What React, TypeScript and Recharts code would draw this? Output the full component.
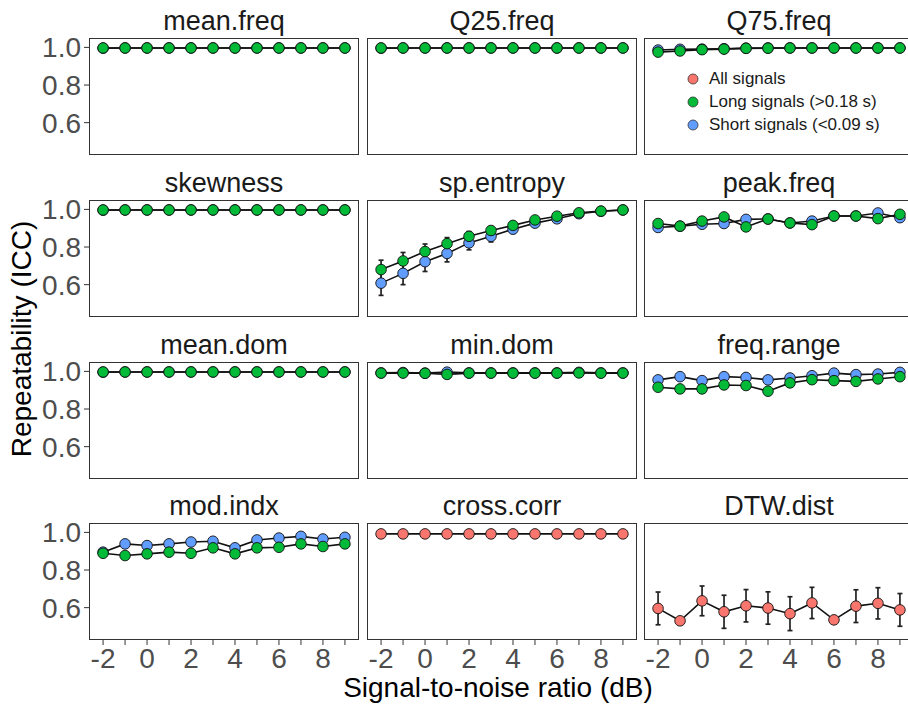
import React from 'react';
import { LineChart, Line, XAxis, YAxis, ErrorBar, Legend } from 'recharts';

// Signal-to-noise ratios (dB) shared by every panel
const SNR = [-2, -1, 0, 1, 2, 3, 4, 5, 6, 7, 8, 9];
const X_TICKS = [-2, -1, 0, 1, 2, 3, 4, 5, 6, 7, 8, 9];
const Y_TICKS = [0.6, 0.8, 1.0];

const FEATURE_NAMES = [
  'mean.freq', 'Q25.freq', 'Q75.freq',
  'skewness', 'sp.entropy', 'peak.freq',
  'mean.dom', 'min.dom', 'freq.range',
  'mod.indx', 'cross.corr', 'DTW.dist',
];

// Repeatability (ICC) per feature and signal group
const MEAN_FREQ_LONG = [0.997, 0.997, 0.997, 0.997, 0.997, 0.997, 0.997, 0.997, 0.997, 0.997, 0.997, 0.997];
const MEAN_FREQ_SHORT = [0.996, 0.997, 0.997, 0.997, 0.997, 0.997, 0.997, 0.997, 0.997, 0.997, 0.997, 0.997];

const Q25_FREQ_LONG = [0.997, 0.997, 0.997, 0.997, 0.997, 0.997, 0.997, 0.997, 0.997, 0.997, 0.997, 0.997];
const Q25_FREQ_SHORT = [0.996, 0.997, 0.997, 0.997, 0.997, 0.997, 0.997, 0.997, 0.997, 0.997, 0.997, 0.997];

const Q75_FREQ_LONG = [0.975, 0.981, 0.988, 0.991, 0.995, 0.996, 0.997, 0.997, 0.997, 0.997, 0.997, 0.997];
const Q75_FREQ_SHORT = [0.986, 0.990, 0.991, 0.993, 0.996, 0.997, 0.997, 0.997, 0.997, 0.997, 0.997, 0.997];

const SKEWNESS_LONG = [0.997, 0.997, 0.997, 0.997, 0.997, 0.997, 0.997, 0.997, 0.997, 0.997, 0.997, 0.997];
const SKEWNESS_SHORT = [0.996, 0.997, 0.997, 0.997, 0.997, 0.997, 0.997, 0.997, 0.997, 0.997, 0.997, 0.997];

const SP_ENTROPY_LONG = [0.680, 0.726, 0.776, 0.818, 0.857, 0.888, 0.915, 0.944, 0.964, 0.982, 0.991, 0.997];
const SP_ENTROPY_LONG_ERR = [0.050, 0.045, 0.040, 0.032, 0.025, 0.020, 0.015, 0.012, 0.008, 0.006, 0.004, 0.003];
const SP_ENTROPY_SHORT = [0.608, 0.660, 0.722, 0.766, 0.822, 0.857, 0.895, 0.927, 0.950, 0.977, 0.990, 0.997];
const SP_ENTROPY_SHORT_ERR = [0.065, 0.060, 0.052, 0.045, 0.037, 0.030, 0.022, 0.016, 0.011, 0.008, 0.005, 0.003];

const PEAK_FREQ_LONG = [0.925, 0.911, 0.938, 0.960, 0.907, 0.949, 0.928, 0.919, 0.965, 0.965, 0.951, 0.974];
const PEAK_FREQ_SHORT = [0.904, 0.911, 0.921, 0.925, 0.947, 0.949, 0.928, 0.938, 0.965, 0.965, 0.981, 0.956];

const MEAN_DOM_LONG = [0.997, 0.997, 0.997, 0.997, 0.997, 0.997, 0.997, 0.997, 0.997, 0.997, 0.997, 0.997];
const MEAN_DOM_SHORT = [0.996, 0.997, 0.997, 0.997, 0.997, 0.997, 0.997, 0.997, 0.997, 0.997, 0.997, 0.997];

const MIN_DOM_LONG = [0.991, 0.991, 0.990, 0.984, 0.991, 0.991, 0.991, 0.991, 0.991, 0.992, 0.991, 0.991];
const MIN_DOM_SHORT = [0.992, 0.994, 0.991, 0.996, 0.992, 0.992, 0.992, 0.992, 0.992, 0.995, 0.992, 0.992];

const FREQ_RANGE_LONG = [0.916, 0.907, 0.907, 0.928, 0.925, 0.895, 0.939, 0.956, 0.951, 0.947, 0.960, 0.972];
const FREQ_RANGE_SHORT = [0.955, 0.972, 0.951, 0.972, 0.968, 0.955, 0.965, 0.977, 0.991, 0.983, 0.986, 0.995];

const MOD_INDX_LONG = [0.889, 0.877, 0.886, 0.895, 0.889, 0.918, 0.886, 0.918, 0.921, 0.939, 0.925, 0.939];
const MOD_INDX_SHORT = [0.895, 0.939, 0.930, 0.939, 0.949, 0.953, 0.918, 0.960, 0.970, 0.979, 0.965, 0.974];

const CROSS_CORR_ALL = [0.992, 0.992, 0.992, 0.992, 0.992, 0.992, 0.992, 0.992, 0.992, 0.992, 0.992, 0.992];

const DTW_DIST_ALL = [0.596, 0.530, 0.636, 0.578, 0.610, 0.598, 0.568, 0.625, 0.535, 0.608, 0.623, 0.588];
const DTW_DIST_ALL_ERR = [0.087, 0, 0.079, 0.088, 0.086, 0.086, 0.090, 0.083, 0, 0.087, 0.083, 0.087];

const LEGEND_LABELS = ['All signals', 'Long signals (>0.18 s)', 'Short signals (<0.09 s)'];

type Series = { all?: number[]; allErr?: number[]; long?: number[]; longErr?: number[]; short?: number[]; shortErr?: number[] };

const FEATURE_SERIES: Series[] = [
  { long: MEAN_FREQ_LONG, short: MEAN_FREQ_SHORT },
  { long: Q25_FREQ_LONG, short: Q25_FREQ_SHORT },
  { long: Q75_FREQ_LONG, short: Q75_FREQ_SHORT },
  { long: SKEWNESS_LONG, short: SKEWNESS_SHORT },
  { long: SP_ENTROPY_LONG, longErr: SP_ENTROPY_LONG_ERR, short: SP_ENTROPY_SHORT, shortErr: SP_ENTROPY_SHORT_ERR },
  { long: PEAK_FREQ_LONG, short: PEAK_FREQ_SHORT },
  { long: MEAN_DOM_LONG, short: MEAN_DOM_SHORT },
  { long: MIN_DOM_LONG, short: MIN_DOM_SHORT },
  { long: FREQ_RANGE_LONG, short: FREQ_RANGE_SHORT },
  { long: MOD_INDX_LONG, short: MOD_INDX_SHORT },
  { all: CROSS_CORR_ALL },
  { all: DTW_DIST_ALL, allErr: DTW_DIST_ALL_ERR },
];

// ---- styling / layout ----
const FONT = '"Liberation Sans", Arial, Helvetica, sans-serif';
const COLORS: Record<string, string> = { all: '#F8766D', long: '#00BA38', short: '#619CFF' };
const LEGEND_KEYS = ['all', 'long', 'short'];
const DRAW_ORDER = ['all', 'short', 'long'];

const COL_LEFT = [89, 367, 644];
const ROW_TOP = [38, 200, 362, 523];
const PW = 270;
const PH = 117;
const PAD = 16; // room around the plot area so labels near the edges are not clipped
const Y_AXIS_W = 70;
const X_AXIS_H = 45;
const X_DOMAIN: [number, number] = [-2.64, 9.64];
const Y_DOMAIN: [number, number] = [0.428, 1.05];

const TICK_STYLE = { fontSize: 28, fill: '#4d4d4d', fontFamily: FONT };

function buildRows(s: Series) {
  return SNR.map((snr, i) => {
    const row: Record<string, number> = { snr };
    for (const k of LEGEND_KEYS) {
      const v = (s as any)[k] as number[] | undefined;
      const e = (s as any)[k + 'Err'] as number[] | undefined;
      if (v) row[k] = v[i];
      if (e) row[k + 'Err'] = e[i];
    }
    return row;
  });
}

function LegendBox() {
  return (
    <div style={{ fontFamily: FONT, fontSize: 17, color: '#1a1a1a' }}>
      {LEGEND_LABELS.map((label, i) => (
        <div key={label} style={{ display: 'flex', alignItems: 'center', height: 23, whiteSpace: 'nowrap' }}>
          <svg width={12} height={12} style={{ marginRight: 10, flex: 'none' }}>
            <circle cx={6} cy={6} r={5} fill={COLORS[LEGEND_KEYS[i]]} stroke="#333" strokeWidth={0.8} />
          </svg>
          <span>{label}</span>
        </div>
      ))}
    </div>
  );
}

function Panel({ index }: { index: number }) {
  const col = index % 3;
  const row = Math.floor(index / 3);
  const left = COL_LEFT[col];
  const top = ROW_TOP[row];
  const showY = col === 0;
  const showX = row === 3;
  const yw = showY ? Y_AXIS_W : 0;
  const xh = showX ? X_AXIS_H : 0;
  const series = FEATURE_SERIES[index];
  const data = buildRows(series);
  const keys = DRAW_ORDER.filter((k) => (series as any)[k]);
  const w = yw + PW + PAD;
  const h = PAD + PH + xh + PAD;

  return (
    <>
      <div style={{ position: 'absolute', left: left - yw, top: top - PAD, width: w, height: h }}>
        <LineChart width={w} height={h} data={data} margin={{ top: PAD, right: PAD, bottom: PAD, left: 0 }}>
          <XAxis
            type="number"
            dataKey="snr"
            domain={X_DOMAIN}
            ticks={X_TICKS}
            interval={0}
            allowDataOverflow
            hide={!showX}
            height={X_AXIS_H}
            axisLine={false}
            tickLine={{ stroke: '#333', strokeWidth: 1 }}
            tickSize={5}
            tickMargin={3}
            tick={TICK_STYLE}
            tickFormatter={(v: number) => (v % 2 === 0 ? String(v) : '')}
          />
          <YAxis
            type="number"
            domain={Y_DOMAIN}
            ticks={Y_TICKS}
            interval={0}
            allowDataOverflow
            hide={!showY}
            width={Y_AXIS_W}
            axisLine={false}
            tickLine={{ stroke: '#333', strokeWidth: 1 }}
            tickSize={5}
            tickMargin={3}
            tick={TICK_STYLE}
            tickFormatter={(v: number) => v.toFixed(1)}
          />
          {keys.map((k) => (
            <Line
              key={k}
              type="linear"
              dataKey={k}
              stroke="#111"
              strokeWidth={1.6}
              dot={{ r: 5.3, fill: COLORS[k], stroke: '#111', strokeWidth: 0.9 }}
              activeDot={false}
              isAnimationActive={false}
            >
              {(series as any)[k + 'Err'] && (
                <ErrorBar dataKey={k + 'Err'} width={2.5} stroke="#222" strokeWidth={1.7} direction="y" isAnimationActive={false} />
              )}
            </Line>
          ))}
          {index === 2 && (
            <Legend
              layout="vertical"
              align="center"
              verticalAlign="middle"
              wrapperStyle={{ position: 'absolute', left: 43, top: 29 + PAD, width: 'auto' }}
              content={() => <LegendBox />}
            />
          )}
        </LineChart>
      </div>
      <div
        style={{
          position: 'absolute',
          left,
          top,
          width: PW,
          height: PH,
          border: '1px solid #333',
          boxSizing: 'border-box',
          pointerEvents: 'none',
        }}
      />
    </>
  );
}

export default function App() {
  return (
    <div
      style={{
        position: 'fixed',
        left: 0,
        top: 0,
        width: 908,
        height: 704,
        overflow: 'hidden',
        background: '#fff',
        fontFamily: FONT,
      }}
    >
      {FEATURE_NAMES.map((_, i) => (
        <Panel key={i} index={i} />
      ))}
      <svg width={908} height={704} style={{ position: 'absolute', left: 0, top: 0, pointerEvents: 'none' }}>
        {FEATURE_NAMES.map((name, i) => (
          <text
            key={name}
            x={COL_LEFT[i % 3] + PW / 2}
            y={ROW_TOP[Math.floor(i / 3)] - 8}
            textAnchor="middle"
            fontSize={27}
            fill="#1a1a1a"
            fontFamily={FONT}
          >
            {name}
          </text>
        ))}
        <text x={498} y={697} textAnchor="middle" fontSize={28} fill="#000" fontFamily={FONT}>
          Signal-to-noise ratio (dB)
        </text>
        <text
          x={0}
          y={0}
          transform="translate(31,339) rotate(-90)"
          textAnchor="middle"
          fontSize={28}
          fill="#000"
          fontFamily={FONT}
        >
          Repeatability (ICC)
        </text>
      </svg>
    </div>
  );
}
